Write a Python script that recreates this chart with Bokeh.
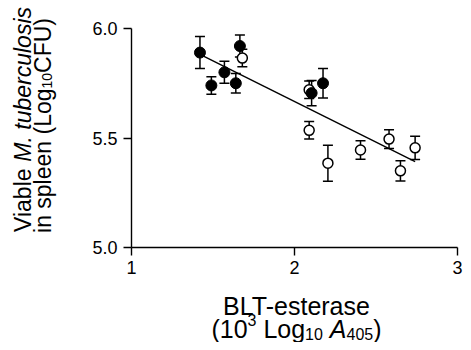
import math
import numpy as np
from bokeh.plotting import figure
from bokeh.models import Range1d, Whisker, TeeHead, ColumnDataSource, Label, FixedTicker
from bokeh.embed import file_html
from bokeh.resources import INLINE

# ---- data ----
filled_x = [1.42, 1.49, 1.57, 1.64, 1.665, 2.105, 2.175]
filled_y = [5.89, 5.74, 5.80, 5.75, 5.92, 5.705, 5.75]
filled_err = [0.073, 0.040, 0.050, 0.044, 0.050, 0.058, 0.067]

open_x = [1.68, 2.09, 2.09, 2.205, 2.405, 2.58, 2.65, 2.74]
open_y = [5.865, 5.72, 5.535, 5.385, 5.445, 5.495, 5.35, 5.455]
open_err = [0.040, 0.040, 0.040, 0.082, 0.042, 0.043, 0.046, 0.053]

x_ticks = [1, 2, 3]
y_ticks = [5.0, 5.5, 6.0]
x_lim = (1, 3)
y_lim = (5.0, 6.0)

FONT = "Liberation Sans"

# Liberation Sans (Arial metrics) advance widths, per 1000 em
W = {' ': 278, '(': 333, ')': 333, '.': 278, '-': 333,
     'A': 667, 'B': 667, 'C': 722, 'F': 611, 'L': 556, 'M': 833, 'T': 611,
     'U': 722, 'V': 667, 'a': 556, 'b': 556, 'c': 500, 'e': 556, 'g': 556,
     'i': 222, 'l': 222, 'n': 556, 'o': 556, 'p': 556, 'r': 333, 's': 500,
     't': 278, 'u': 556}
for d in "0123456789":
    W[d] = 556


def text_width(s, size):
    return sum(W.get(c, 556) for c in s) * size / 1000.0


# ---- canvas geometry (pixels) ----
CW, CH = 463, 342
AX_L, AX_R = 131, 457      # pixel of x = 1 and x = 3
AX_T, AX_B = 28, 247       # pixel of y = 6 and y = 5
kx = (x_lim[1] - x_lim[0]) / (AX_R - AX_L)
ky = (y_lim[1] - y_lim[0]) / (AX_B - AX_T)
xr = Range1d(x_lim[0] - AX_L * kx, x_lim[0] + (CW - AX_L) * kx)
yr = Range1d(y_lim[0] - (CH - AX_B) * ky, y_lim[1] + AX_T * ky)

p = figure(frame_width=CW, frame_height=CH, min_border=0,
           x_range=xr, y_range=yr,
           output_backend="svg", toolbar_location=None, tools="")
p.outline_line_color = None
p.grid.visible = False
p.background_fill_color = "white"
p.border_fill_color = "white"

p.xaxis.fixed_location = y_lim[0]
p.yaxis.fixed_location = x_lim[0]
p.xaxis.bounds = x_lim
p.yaxis.bounds = y_lim

for ax in (p.xaxis[0], p.yaxis[0]):
    ax.axis_line_width = 1.4
    ax.axis_line_color = "black"
    ax.major_tick_line_color = "black"
    ax.major_tick_line_width = 1.4
    ax.major_tick_out = 8
    ax.major_tick_in = 0
    ax.minor_tick_line_color = None
    ax.major_label_text_font = FONT
    ax.major_label_text_font_size = "18px"
    ax.major_label_text_color = "black"

p.xaxis.ticker = FixedTicker(ticks=x_ticks)
p.yaxis.ticker = FixedTicker(ticks=y_ticks)
p.xaxis.major_label_overrides = {t: str(t) for t in x_ticks}
p.yaxis.major_label_overrides = {t: f"{t:.1f}" for t in y_ticks}
p.yaxis.major_label_standoff = 6
p.xaxis.major_label_standoff = 5

# error bars (drawn beneath the markers)
for xs, ys, es in ((open_x, open_y, open_err), (filled_x, filled_y, filled_err)):
    src = ColumnDataSource(dict(x=xs, upper=[y + e for y, e in zip(ys, es)],
                                lower=[y - e for y, e in zip(ys, es)]))
    w = Whisker(source=src, base="x", upper="upper", lower="lower",
                line_color="black", line_width=1.5, level="underlay",
                upper_head=TeeHead(size=10, line_width=1.5, line_color="black"),
                lower_head=TeeHead(size=10, line_width=1.5, line_color="black"))
    p.add_layout(w)

# least-squares regression line over all points
all_x = np.array(filled_x + open_x)
all_y = np.array(filled_y + open_y)
slope, intercept = np.polyfit(all_x, all_y, 1)
lx = np.array([all_x.min(), all_x.max()])
p.line(lx, slope * lx + intercept, line_color="black", line_width=1.4)

p.scatter(open_x, open_y, size=10, marker="circle", fill_color="white",
          line_color="black", line_width=1.5)
p.scatter(filled_x, filled_y, size=11, marker="circle", fill_color="black",
          line_color="black")

SHIFT = 8  # empirical correction of the rendered baseline


def add_text(x_px, y_px, text, size, style="normal", align="left", angle=0.0):
    """Place a text at canvas pixel position (from top-left), baseline at y_px."""
    if angle == 0.0:
        y_px -= SHIFT
    else:
        x_px -= SHIFT
    p.add_layout(Label(x=x_px, y=CH - y_px, x_units="screen", y_units="screen", text=text,
                       text_font=FONT, text_font_size=f"{size}px", text_font_style=style,
                       text_align=align, text_baseline="alphabetic", text_color="black",
                       angle=angle))


def lead_width(t, s):
    n = len(t) - len(t.lstrip(" "))
    return text_width(t[:n], s)


# ---- x axis title ----
XS, XSUB = 25, 16
XC = 296
add_text(XC, 313, "BLT-esterase", XS, align="center")
pieces = [("(10", XS, "normal", 0), ("3", XSUB, "normal", -9), (" Log", XS, "normal", 0),
          ("10", XSUB, "normal", 5), (" A", XS, "italic", 0),
          ("405", XSUB, "normal", 5), (")", XS, "normal", 0)]
total = sum(text_width(t, s) for t, s, _, _ in pieces)
cx = XC - total / 2
for t, s, st, oy in pieces:
    add_text(cx + lead_width(t, s), 336 + oy, t.strip(), s, style=st)
    cx += text_width(t, s)

# ---- y axis title (rotated, reading upward) ----
YS, YSUB = 23, 14
lines = [
    (30, 119, [("Viable", YS, "normal", 0), (" M. tuberculosis", YS, "italic", 0)]),
    (50, 125, [("in spleen (Log", YS, "normal", 0), ("10", YSUB, "normal", 4),
               ("CFU)", YS, "normal", 0)]),
]
for base_x, center_y, parts in lines:
    total = sum(text_width(t, s) for t, s, _, _ in parts)
    cy = center_y + total / 2
    for t, s, st, ox in parts:
        add_text(base_x + ox, cy - lead_width(t, s), t.strip(), s, style=st, angle=math.pi / 2)
        cy -= text_width(t, s)

open("out.html", "w").write(file_html(p, INLINE))
